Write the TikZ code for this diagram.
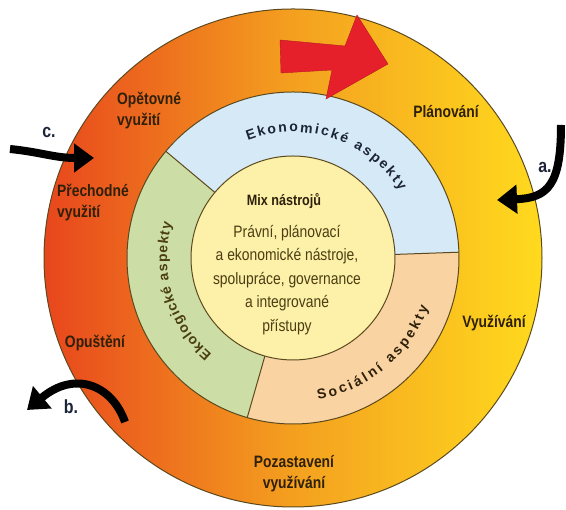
\documentclass[tikz,border=0pt]{standalone}
\usepackage{fontspec}
\setmainfont{Liberation Sans}
\newfontfamily\condfont{Liberation Sans}[FakeStretch=0.84]
\usetikzlibrary{decorations.text,arrows.meta}
\definecolor{outerL}{HTML}{E8461D}
\definecolor{outerM}{HTML}{F4A01F}
\definecolor{outerR}{HTML}{FFDA1E}
\definecolor{ecoblue}{HTML}{D6E9F6}
\definecolor{ecogreen}{HTML}{CCDEA6}
\definecolor{socpeach}{HTML}{FAD3A3}
\definecolor{mixyellow}{HTML}{FDF0A8}
\definecolor{lineol}{HTML}{5C4A1E}
\definecolor{txtbrown}{HTML}{2E200A}
\definecolor{txtolive}{HTML}{4A3E12}
\definecolor{txtnavy}{HTML}{1C2438}
\definecolor{arrred}{HTML}{E5202A}
\tikzset{
  ringline/.style={draw=lineol, line width=1pt},
  outerlab/.style={font={\condfont\bfseries\fontsize{16.5}{21}\selectfont}, text=txtbrown, inner sep=0pt},
  letterlab/.style={font={\condfont\bfseries\fontsize{19}{19}\selectfont}, text=txtnavy, inner sep=0pt},
  blackarrow/.style={draw=black, line width=8pt, -{Triangle[length=20pt,width=28pt]}},
  ringtext/.style={decorate, decoration={text along path, text align=fit to path}}
}
\begin{document}
\begin{tikzpicture}[x=1pt,y=1pt]
\useasboundingbox (0,0) rectangle (566,510);
\coordinate (C) at (293,252);
% outer ring
\shade[left color=outerL, right color=outerR, middle color=outerM] (C) circle[radius=249];
\draw[ringline] (C) circle[radius=249];
% middle ring sectors
\fill[ecoblue] (C) -- ([shift={(2:166)}]C) arc[start angle=2,end angle=140,radius=166] -- cycle;
\fill[ecogreen] (C) -- ([shift={(140:166)}]C) arc[start angle=140,end angle=254,radius=166] -- cycle;
\fill[socpeach] (C) -- ([shift={(254:166)}]C) arc[start angle=254,end angle=362,radius=166] -- cycle;
\draw[ringline] (C) circle[radius=166];
\draw[ringline] ([shift={(2:102)}]C) -- ([shift={(2:166)}]C);
\draw[ringline] ([shift={(140:102)}]C) -- ([shift={(140:166)}]C);
\draw[ringline] ([shift={(254:102)}]C) -- ([shift={(254:166)}]C);
% inner circle
\fill[mixyellow] (C) circle[radius=102];
\draw[ringline] (C) circle[radius=102];
% red arrow
\fill[arrred, draw=arrred!80!black, line width=0.4pt]
  (280,470) -- (345,464) -- (357,495) -- (388,446) -- (326,411) -- (332,440) -- (281,437) -- cycle;
% ring texts
\path[ringtext, decoration={text={|\bfseries\fontsize{14}{14}\selectfont\color{txtnavy}|Ekonomické aspekty}}]
  ([shift={(111:126)}]C) arc[start angle=111,end angle=32,radius=126];
\path[ringtext, decoration={text={|\bfseries\fontsize{14}{14}\selectfont\color{txtolive}|Ekologické aspekty}}]
  ([shift={(230:126)}]C) arc[start angle=230,end angle=164,radius=126];
\path[ringtext, decoration={text={|\bfseries\fontsize{14}{14}\selectfont\color{txtbrown}|Sociální aspekty}}]
  ([shift={(-80:144)}]C) arc[start angle=-80,end angle=-20,radius=144];
% outer labels
\node[outerlab, align=left, anchor=west] (opet) at (117,399) {Opětovné\\využití};
\node[outerlab, align=left, anchor=west] (prech) at (57,307) {Přechodné\\využití};
\node[outerlab] (plan) at (446,398) {Plánování};
\node[outerlab] (vyuz) at (494,187) {Využívání};
\node[outerlab] (opus) at (95,167) {Opuštění};
\node[outerlab, align=center] (poz) at (294,36) {Pozastavení\\využívání};
% center
\node[font={\condfont\bfseries\fontsize{15}{15}\selectfont}, text=txtbrown] (mix) at (284,309) {Mix nástrojů};
\node[font={\condfont\fontsize{16.5}{23.5}\selectfont}, text=txtolive, align=center] (body) at (287,230)
  {Právní, plánovací\\a ekonomické nástroje,\\spolupráce, governance\\a integrované\\přístupy};
% black arrows
\coordinate (aS) at (561,385);
\coordinate (aE) at (497,310);
\draw[blackarrow] (aS) .. controls (561,325) and (548,312) .. (aE);
\coordinate (bS) at (125,88);
\coordinate (bE) at (27,100);
\draw[blackarrow] (bS) .. controls (112,125) and (75,140) .. (bE);
\coordinate (cS) at (10,361);
\coordinate (cE) at (94,352);
\draw[blackarrow] (cS) .. controls (40,358) and (55,352) .. (cE);
% letter labels
\node[letterlab] (la) at (545,343) {a.};
\node[letterlab] (lb) at (71,103) {b.};
\node[letterlab] (lc) at (49,378) {c.};
\end{tikzpicture}
\end{document}
